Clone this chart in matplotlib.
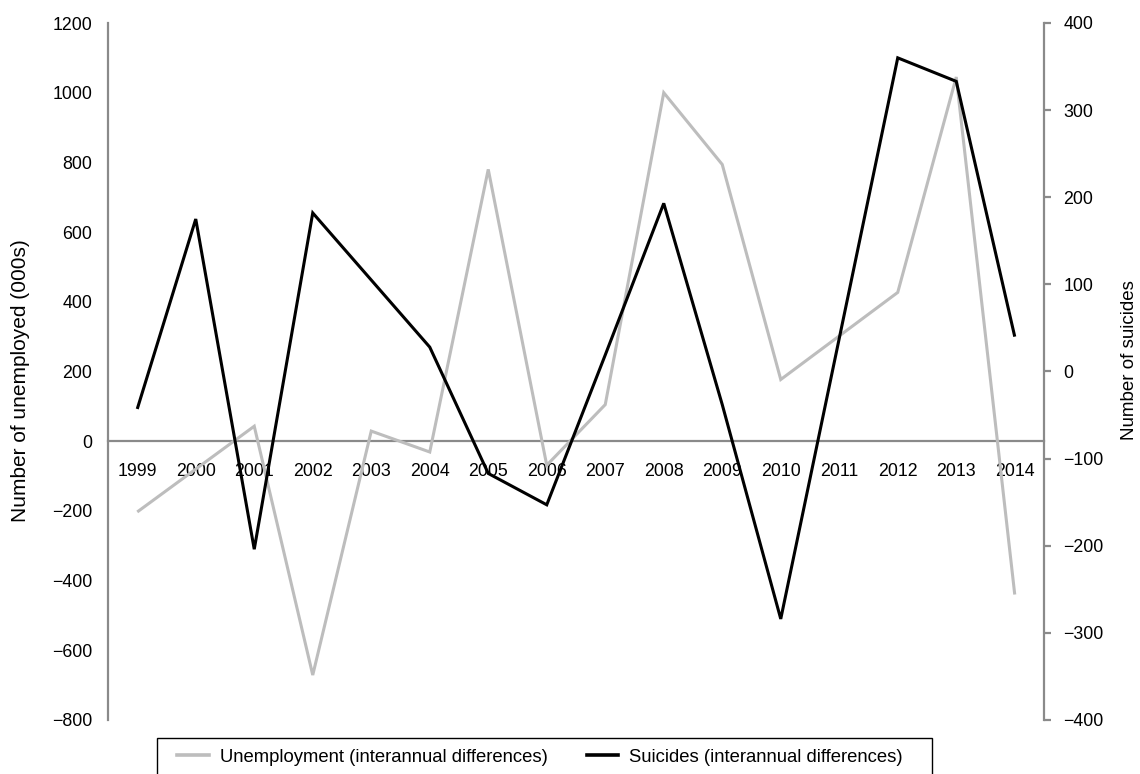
import matplotlib
matplotlib.use("Agg")
import matplotlib.pyplot as plt
from matplotlib.lines import Line2D
from matplotlib.patches import Rectangle
import numpy as np

# Interannual differences, 1999-2014
years = [str(y) for y in range(1999, 2015)]
unemployment = [-203, -80, 43, -671, 29, -31, 780, -69, 105, 1000, 794, 177, 302, 427, 1045, -440]
suicides = [-43, 175, -204, 182, 105, 28, -117, -153, 19, 193, -38, -284, 38, 360, 333, 40]

left_ticks = list(range(-800, 1201, 200))
right_ticks = list(range(-400, 401, 100))

plt.rcParams["font.family"] = ["Liberation Sans", "DejaVu Sans"]
FS = 12.8
LEFT_LABEL_FS = 15
RIGHT_LABEL_FS = 13.5
LEG_FS = 13.3
AXIS_GREY = "#8a8a8a"
UNEMP_GREY = "#bdbdbd"

W, H = 1140, 774
fig = plt.figure(figsize=(W / 100, H / 100), dpi=100)
ax = fig.add_axes([108 / W, 1 - 720 / H, 936 / W, 697 / H])
ax2 = ax.twinx()

x = np.arange(len(years))
ax.plot(x, unemployment, color=UNEMP_GREY, lw=2.2,
        solid_joinstyle="miter", solid_capstyle="butt", zorder=3)
ax2.plot(x, suicides, color="black", lw=2.2,
         solid_joinstyle="miter", solid_capstyle="butt", zorder=3)

ax.set_xlim(-0.5, len(years) - 0.5)
ax.set_ylim(-800, 1200)
ax2.set_ylim(-400, 400)
ax.set_yticks(left_ticks)
ax2.set_yticks(right_ticks)
ax.set_xticks(x)
ax.set_xticklabels(years)

# spines: left, right and a zero line carrying the year labels
for s in ["top", "right"]:
    ax.spines[s].set_visible(False)
ax.spines["left"].set_color(AXIS_GREY)
ax.spines["left"].set_linewidth(1.6)
ax.spines["bottom"].set_position(("data", 0))
ax.spines["bottom"].set_color(AXIS_GREY)
ax.spines["bottom"].set_linewidth(1.6)
for s in ["top", "left", "bottom"]:
    ax2.spines[s].set_visible(False)
ax2.spines["right"].set_color(AXIS_GREY)
ax2.spines["right"].set_linewidth(1.6)

ax.tick_params(axis="y", length=0, pad=11.5, labelsize=FS)
ax.tick_params(axis="x", length=0, pad=16, labelsize=FS)
ax2.tick_params(axis="y", length=5, width=1.6, color=AXIS_GREY,
                direction="out", pad=9, labelsize=FS)

fig.text(21 / W, 1 - 381 / H, "Number of unemployed (000s)", rotation=90,
         ha="center", va="center", fontsize=LEFT_LABEL_FS)
fig.text(1130 / W, 1 - 360 / H, "Number of suicides", rotation=90,
         ha="center", va="center", fontsize=RIGHT_LABEL_FS)

# legend: entries without frame, box drawn separately (runs off the bottom edge)
handles = [Line2D([], [], color=UNEMP_GREY, lw=2.6),
           Line2D([], [], color="black", lw=2.6)]
labels = ["Unemployment (interannual differences)", "Suicides (interannual differences)"]
leg = fig.legend(handles, labels, loc="center left",
                 bbox_to_anchor=(170 / W, 1 - 757 / H), ncol=2,
                 frameon=False, fontsize=LEG_FS, handlelength=1.7,
                 handletextpad=0.6, columnspacing=2.1,
                 borderaxespad=0, borderpad=0.4)
fig.patches.append(Rectangle((157 / W, -0.01), (932 - 157) / W, 0.01 + (774 - 738) / H,
                             transform=fig.transFigure, fill=False,
                             edgecolor="black", linewidth=1.0))

fig.savefig("out.png", dpi=100)
